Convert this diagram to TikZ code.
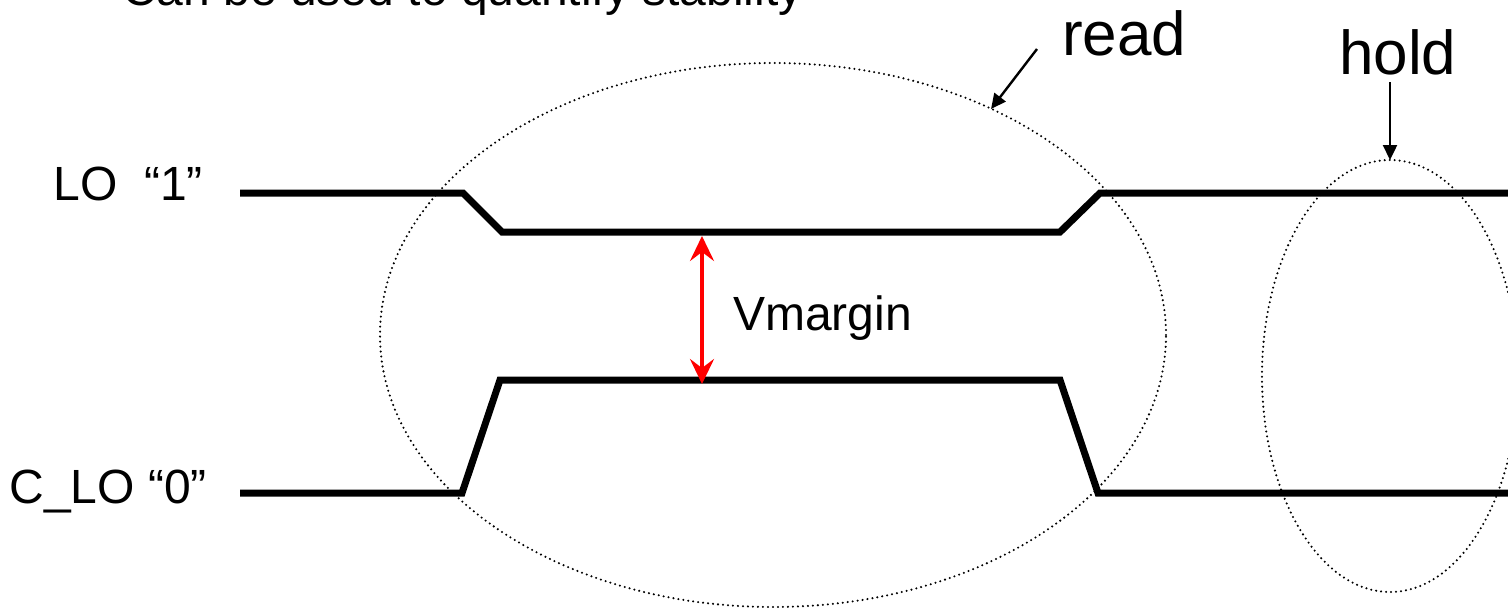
\documentclass[tikz,border=0pt]{standalone}
\usepackage{fontspec}
\setmainfont{Liberation Sans}
\usetikzlibrary{arrows.meta,shapes.geometric}

\tikzset{
  signal/.style={line width=7pt, line join=miter, black},
  region/.style={draw, ellipse, inner sep=0pt, outer sep=0pt,
    line width=2.3pt, line cap=round, dash pattern=on 0pt off 5pt},
  label/.style={inner sep=0pt, anchor=base west},
  mid/.style={font=\fontsize{48}{56}\selectfont},
  big/.style={font=\fontsize{62}{72}\selectfont},
  pointer/.style={line width=2.4pt, -{Triangle[length=15pt,width=14pt]}},
  margin/.style={red, line width=3.5pt,
    {Stealth[length=25pt,width=24pt,inset=9pt]}-{Stealth[length=25pt,width=24pt,inset=9pt]}}
}

\begin{document}
\begin{tikzpicture}[x=1pt,y=-1pt]
\useasboundingbox (0,0) rectangle (1508,608);
\clip (0,0) rectangle (1508,608);

% heading line, mostly above the frame
\node[label, mid] (heading) at (122,5) {Can be used to quantify stability};

% signal names
\node[mid, inner sep=0pt, anchor=base east] (lo) at (203,200) {LO\ \ “1”};
\node[mid, inner sep=0pt, anchor=base east] (clo) at (207,503) {C\_LO “0”};

% LO waveform
\coordinate (lo0) at (240,193);
\coordinate (lo1) at (463,193);
\coordinate (lo2) at (502,232);
\coordinate (lo3) at (1060,232);
\coordinate (lo4) at (1100,193);
\coordinate (lo5) at (1512,193);
\draw[signal] (lo0) -- (lo1) -- (lo2) -- (lo3) -- (lo4) -- (lo5);

% C_LO waveform
\coordinate (cl0) at (240,493);
\coordinate (cl1) at (462,493);
\coordinate (cl2) at (500,380);
\coordinate (cl3) at (1060,380);
\coordinate (cl4) at (1098,493);
\coordinate (cl5) at (1512,493);
\draw[signal] (cl0) -- (cl1) -- (cl2) -- (cl3) -- (cl4) -- (cl5);

% margin between the two levels
\coordinate (mtop) at (702,236);
\coordinate (mbot) at (702,384);
\draw[margin] (mtop) -- (mbot);
\node[label, mid] (vm) at (733,330) {Vmargin};

% read and hold regions
\node[region, minimum width=786pt, minimum height=544pt] (readE) at (773,335) {};
\node[region, minimum width=256pt, minimum height=432pt] (holdE) at (1390,376) {};

\node[label, big] (read) at (1062,55) {read};
\node[label, big] (hold) at (1339,74) {hold};

\coordinate (readstart) at (1037,49);
\coordinate (readtip) at (991,109);
\draw[pointer] (readstart) -- (readtip);

\coordinate (holdstart) at (1390,82);
\draw[pointer] (holdstart) -- (holdE.north);
\end{tikzpicture}
\end{document}
